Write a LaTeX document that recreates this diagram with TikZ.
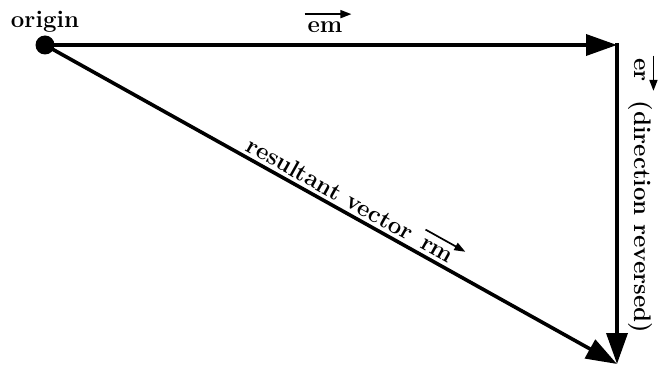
\documentclass[tikz,border=0pt]{standalone}
\usetikzlibrary{arrows.meta}
\newcommand\vlab[1]{\tikz[baseline=(t.base)]{\node[inner sep=0pt,outer sep=0pt] (t) {#1};
  \draw[line width=1.7pt,-{Triangle[length=11pt,width=8pt]}] ([xshift=-3pt,yshift=8pt]t.north west) -- ([xshift=9pt,yshift=8pt]t.north east);}}
\begin{document}
\begin{tikzpicture}[x=1pt,y=-1pt,
  vec/.style={line width=3.6pt, -{Triangle[length=31pt,width=21pt]}},
  lbl/.style={font=\fontsize{24}{28}\selectfont\bfseries, inner sep=1pt}]
\useasboundingbox (0,0) rectangle (658,366);
\node[circle, fill=black, minimum size=19pt, inner sep=0pt] (dot) at (45,45) {};
\coordinate (O) at (45,45);
\coordinate (A) at (617,45);
\coordinate (B) at (617,364);
\node[lbl, anchor=base] (orig) at (45,28) {origin};
\draw[vec] (O) -- (A);
\draw[vec, shorten <=-1.8pt] (A) -- (B);
\draw[vec] (O) -- (B) node[lbl, sloped, above=4pt, pos=0.53] (rm) {resultant vector \vlab{rm}};
\node[lbl, anchor=base] (em) at (328,33) {\vlab{em}};
\node[lbl, rotate=-90] (er) at (643,194) {\vlab{er} (direction reversed)};
\end{tikzpicture}
\end{document}
